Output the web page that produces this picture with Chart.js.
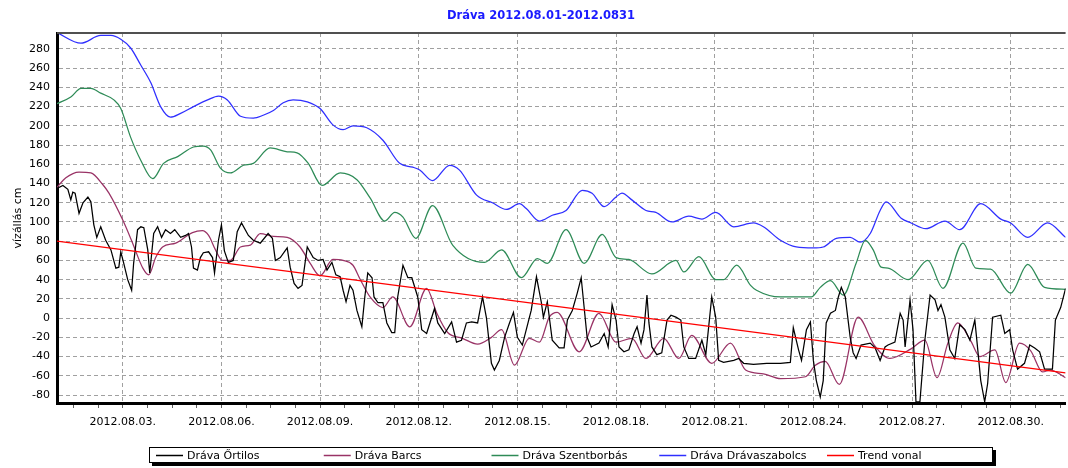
<!DOCTYPE html>
<html>
<head>
<meta charset="utf-8">
<script src="https://cdn.jsdelivr.net/npm/chart.js@4.4.0/dist/chart.umd.min.js"></script>
<style>
  html, body { margin: 0; padding: 0; background: #fff; }
  canvas { display: block; }
</style>
</head>
<body>
<canvas id="dravaChart" width="1068" height="468"></canvas>
<script>
// days since 2012.08.01 00:00, water level in cm
const chartTitle = "Dráva 2012.08.01-2012.0831";
const yAxisTitle = "vízállás cm";

const ortilosDays = [0,0.18,0.33,0.42,0.48,0.55,0.67,0.79,0.94,1.03,1.12,1.21,1.33,1.48,1.64,1.79,1.88,1.94,2.03,2.15,2.27,2.33,2.45,2.55,2.64,2.76,2.82,2.94,3.06,3.18,3.30,3.45,3.58,3.76,3.91,4.00,4.09,4.15,4.27,4.36,4.45,4.61,4.73,4.79,4.91,5.00,5.09,5.21,5.36,5.48,5.61,5.82,5.97,6.18,6.42,6.55,6.64,6.79,7.00,7.09,7.21,7.33,7.45,7.61,7.79,7.94,8.09,8.21,8.36,8.48,8.61,8.70,8.79,8.91,9.00,9.12,9.27,9.36,9.45,9.58,9.64,9.76,9.91,10.03,10.18,10.27,10.36,10.52,10.67,10.79,10.97,11.09,11.24,11.48,11.58,11.79,12.00,12.15,12.30,12.45,12.61,12.79,12.94,13.06,13.21,13.30,13.45,13.61,13.76,13.88,14.00,14.15,14.42,14.58,14.73,14.79,14.91,15.06,15.27,15.42,15.52,15.67,15.82,15.94,16.03,16.12,16.24,16.48,16.64,16.76,16.88,17.00,17.09,17.24,17.39,17.55,17.64,17.76,17.85,17.94,18.00,18.09,18.24,18.39,18.55,18.67,18.82,18.97,19.06,19.21,19.42,19.61,19.73,19.91,20.03,20.12,20.27,20.58,20.73,20.88,21.18,21.58,22.00,22.30,22.39,22.55,22.64,22.79,22.91,23.00,23.09,23.21,23.30,23.39,23.52,23.67,23.76,23.85,23.97,24.12,24.21,24.30,24.45,24.73,24.88,25.03,25.18,25.27,25.48,25.64,25.73,25.79,25.94,26.03,26.12,26.24,26.39,26.55,26.70,26.79,26.88,27.00,27.15,27.30,27.45,27.61,27.76,27.91,28.00,28.09,28.21,28.30,28.45,28.70,28.82,28.97,29.06,29.21,29.42,29.58,29.73,29.88,30.03,30.27,30.36,30.52,30.67];
const ortilosCm = [135,138,134,123,131,130,109,120,126,121,97,84,95,81,71,52,53,69,57,40,29,57,92,95,94,71,47,88,95,84,92,88,92,84,86,88,74,52,50,63,68,69,63,47,81,97,70,58,60,90,99,86,81,78,88,83,60,63,73,53,36,31,34,74,63,60,61,50,58,45,43,29,17,34,29,8,-9,22,47,42,22,16,16,-5,-15,-15,22,55,42,42,22,-12,-16,10,-5,-16,-4,-25,-23,-5,-4,-5,22,0,-47,-54,-44,-20,-5,6,-20,-28,8,43,16,1,17,-23,-31,-31,-2,8,26,42,11,-20,-30,-26,-16,-30,14,-2,-30,-35,-33,-16,-9,-26,-12,24,-5,-30,-38,-36,-2,3,1,-2,-30,-42,-42,-23,-38,22,1,-44,-46,-44,-42,-47,-48,-47,-47,-46,-10,-33,-44,-12,-4,-44,-65,-82,-65,-5,5,8,22,32,22,-20,-36,-42,-28,-26,-31,-44,-30,-28,-25,5,-2,-30,19,-12,-87,-87,-23,24,19,8,14,1,-33,-42,-7,-12,-23,-2,-33,-65,-87,-68,1,3,-16,-12,-33,-53,-47,-28,-31,-35,-53,-53,-2,11,31];

const barcsDays = [0,0.27,0.67,1.03,1.39,1.58,2.00,2.30,2.61,2.79,3.00,3.21,3.61,4.12,4.42,4.61,4.82,5.03,5.27,5.58,5.88,6.18,6.58,7.00,7.39,7.70,8.00,8.39,8.70,9.00,9.21,9.52,9.91,10.21,10.73,11.24,11.55,11.88,12.33,12.79,13.21,13.52,13.91,14.36,14.67,14.97,15.21,15.88,16.48,17.00,17.48,17.91,18.45,18.91,19.30,19.91,20.48,20.94,21.48,22.00,22.76,23.06,23.36,23.79,24.36,24.85,25.33,25.97,26.39,26.76,27.09,27.39,27.79,28.06,28.52,28.85,29.27,29.61,29.97,30.21,30.67];
const barcsCm = [136,146,152,151,139,130,102,78,52,45,63,74,78,89,91,86,71,60,60,74,76,88,85,84,74,57,44,61,60,55,41,22,11,22,-9,31,5,-15,-21,-27,-20,-12,-49,-21,-25,1,6,-35,5,-25,-21,-42,-21,-42,-18,-47,-26,-54,-58,-63,-61,-49,-45,-69,1,-28,-42,-32,-23,-62,-26,-5,-24,-40,-33,-67,-26,-34,-56,-54,-62];

const szentDays = [0,0.42,0.73,1.03,1.33,1.73,1.94,2.24,2.55,2.91,3.24,3.67,4.15,4.45,4.67,4.97,5.27,5.67,5.97,6.48,7.00,7.30,7.64,8.06,8.61,9.12,9.52,9.97,10.27,10.52,10.91,11.42,12.03,13.00,13.52,14.12,14.61,14.91,15.48,16.03,16.58,17.00,17.39,18.09,18.82,19.06,19.52,20.03,20.27,20.67,21.09,21.27,22.00,22.94,23.21,23.52,23.91,24.30,24.58,24.82,25.06,25.27,25.88,26.48,26.94,27.55,27.94,28.39,29.00,29.52,30.03,30.67];
const szentCm = [223,230,239,239,234,227,218,188,164,145,161,168,178,179,175,156,151,159,161,177,173,172,161,138,151,144,125,101,110,105,83,117,76,58,71,42,62,57,92,57,87,63,61,46,60,48,64,40,40,55,34,29,22,22,32,39,24,57,81,71,53,52,40,60,31,78,52,51,26,56,32,30];

const szabolcsDays = [0,0.73,1.33,1.64,1.94,2.24,2.55,2.85,3.15,3.45,3.76,4.15,4.58,4.91,5.18,5.58,5.97,6.27,6.58,6.88,7.18,7.61,8.00,8.39,8.70,9.00,9.42,9.91,10.42,10.82,11.03,11.42,11.94,12.24,12.76,13.24,13.67,14.06,14.27,14.67,15.06,15.48,15.97,16.27,16.64,17.00,17.18,17.48,17.91,18.21,18.70,19.21,19.61,20.03,20.58,21.18,21.48,22.00,22.48,23.00,23.30,23.70,24.12,24.42,24.73,25.03,25.21,25.67,25.97,26.42,27.00,27.45,28.09,28.70,29.00,29.52,30.12,30.67];
const szabolcsCm = [297,286,294,294,290,281,263,245,220,209,213,220,227,231,227,210,208,211,216,224,227,225,218,201,196,200,198,185,161,157,154,143,159,154,128,120,113,119,114,101,107,112,133,130,116,126,130,123,112,110,100,106,103,110,95,99,95,81,74,73,74,83,84,79,88,112,121,104,99,93,101,92,119,103,99,84,99,84];

const trendDays = [0, 30.67];
const trendCm = [80, -57];

const yTickValues = [-80,-60,-40,-20,0,20,40,60,80,100,120,140,160,180,200,220,240,260,280];
const xMajorDays = [2,5,8,11,14,17,20,23,26,29];
const xTickLabels = ["2012.08.03.","2012.08.06.","2012.08.09.","2012.08.12.","2012.08.15.","2012.08.18.","2012.08.21.","2012.08.24.","2012.08.27.","2012.08.30."];

const seriesColors = ["#000000", "#993366", "#2e8b57", "#2f2fff", "#ff0000"];

function toPoints(days, cm) {
  return days.map((d, i) => ({ x: d, y: cm[i] }));
}

const FONT = "'DejaVu Sans', Verdana, sans-serif";
const GRID = "#a0a0a0";

// background, top frame, title and boxed legend
const framePlugin = {
  id: "frame",
  beforeDraw(chart) {
    const ctx = chart.ctx;
    ctx.save();
    ctx.fillStyle = "#fff";
    ctx.fillRect(0, 0, chart.width, chart.height);
    ctx.restore();
  },
  afterDraw(chart) {
    const ctx = chart.ctx;
    const area = chart.chartArea;
    ctx.save();

    ctx.strokeStyle = "#505050";
    ctx.lineWidth = 2;
    ctx.beginPath();
    ctx.moveTo(area.left, area.top);
    ctx.lineTo(area.right, area.top);
    ctx.stroke();

    ctx.font = "bold 11.5px " + FONT;
    ctx.fillStyle = "#1a1aff";
    ctx.textAlign = "center";
    ctx.textBaseline = "middle";
    ctx.fillText(chartTitle, 541, 16);

    // legend box with drop shadow
    const bx = 149, by = 447, bw = 844, bh = 16;
    ctx.fillStyle = "#000";
    ctx.fillRect(bx + 3, by + 3, bw, bh);
    ctx.fillStyle = "#fff";
    ctx.fillRect(bx, by, bw, bh);
    ctx.strokeStyle = "#000";
    ctx.lineWidth = 1;
    ctx.strokeRect(bx + 0.5, by + 0.5, bw - 1, bh - 1);

    ctx.font = "11px " + FONT;
    ctx.textAlign = "left";
    chart.data.datasets.forEach((ds, i) => {
      const x0 = 156 + i * 167.75;
      ctx.lineWidth = 1.5;
      ctx.strokeStyle = seriesColors[i];
      ctx.beginPath();
      ctx.moveTo(x0, by + 8.5);
      ctx.lineTo(x0 + 27, by + 8.5);
      ctx.stroke();
      ctx.fillStyle = "#000";
      ctx.fillText(ds.label, x0 + 31, by + 9);
    });
    ctx.restore();
  }
};

const smooth = { tension: 0.4, cubicInterpolationMode: "monotone" };
const lineWidth = 1.25;

new Chart(document.getElementById("dravaChart"), {
  type: "line",
  data: {
    datasets: [
      { label: "Dráva Őrtilos", data: toPoints(ortilosDays, ortilosCm), borderColor: seriesColors[0], borderWidth: lineWidth, pointRadius: 0, tension: 0, order: 1 },
      { label: "Dráva Barcs", data: toPoints(barcsDays, barcsCm), borderColor: seriesColors[1], borderWidth: lineWidth, pointRadius: 0, order: 2, ...smooth },
      { label: "Dráva Szentborbás", data: toPoints(szentDays, szentCm), borderColor: seriesColors[2], borderWidth: lineWidth, pointRadius: 0, order: 3, ...smooth },
      { label: "Dráva Drávaszabolcs", data: toPoints(szabolcsDays, szabolcsCm), borderColor: seriesColors[3], borderWidth: lineWidth, pointRadius: 0, order: 4, ...smooth },
      { label: "Trend vonal", data: toPoints(trendDays, trendCm), borderColor: seriesColors[4], borderWidth: lineWidth, pointRadius: 0, tension: 0, order: 0 }
    ]
  },
  options: {
    responsive: false,
    animation: false,
    events: [],
    layout: { padding: { top: 33, bottom: 35, left: 0, right: 0 } },
    plugins: {
      legend: { display: false },
      title: { display: false },
      tooltip: { enabled: false }
    },
    scales: {
      x: {
        type: "linear",
        min: 0,
        max: 30.67,
        afterFit: (scale) => { scale.height = 30; },
        afterBuildTicks: (scale) => {
          // minor ticks every 0.75 day, major every 3 days
          const ticks = [];
          for (let v = xMajorDays[0] - 1.5; v <= scale.max; v += 0.75) {
            ticks.push({ value: v, major: xMajorDays.some(m => Math.abs(m - v) < 0.01) });
          }
          scale.ticks = ticks;
        },
        ticks: {
          autoSkip: false,
          maxRotation: 0,
          padding: 8,
          color: "#000",
          font: { family: FONT, size: 11 },
          callback: (value) => {
            const i = xMajorDays.findIndex(m => Math.abs(m - value) < 0.01);
            return i >= 0 ? xTickLabels[i] : "";
          }
        },
        grid: {
          color: (ctx) => (ctx.tick && ctx.tick.major ? GRID : "rgba(0,0,0,0)"),
          lineWidth: 1,
          drawTicks: true,
          tickLength: 5,
          tickColor: "#606060",
          tickWidth: 1,
          tickBorderDash: []
        },
        border: { display: true, color: "#000", width: 3, dash: [4, 3] }
      },
      y: {
        min: -88.3,
        max: 296.6,
        afterFit: (scale) => { scale.width = 57; },
        afterBuildTicks: (scale) => {
          scale.ticks = yTickValues.map(v => ({ value: v }));
        },
        ticks: {
          padding: 7,
          color: "#000",
          font: { family: FONT, size: 11 }
        },
        title: {
          display: true,
          text: yAxisTitle,
          color: "#000",
          font: { family: FONT, size: 11 },
          padding: { top: 12, bottom: 0 }
        },
        grid: {
          color: GRID,
          lineWidth: 1,
          drawTicks: false
        },
        border: { display: true, color: "#000", width: 3, dash: [4, 3] }
      }
    }
  },
  plugins: [framePlugin]
});
</script>
</body>
</html>
